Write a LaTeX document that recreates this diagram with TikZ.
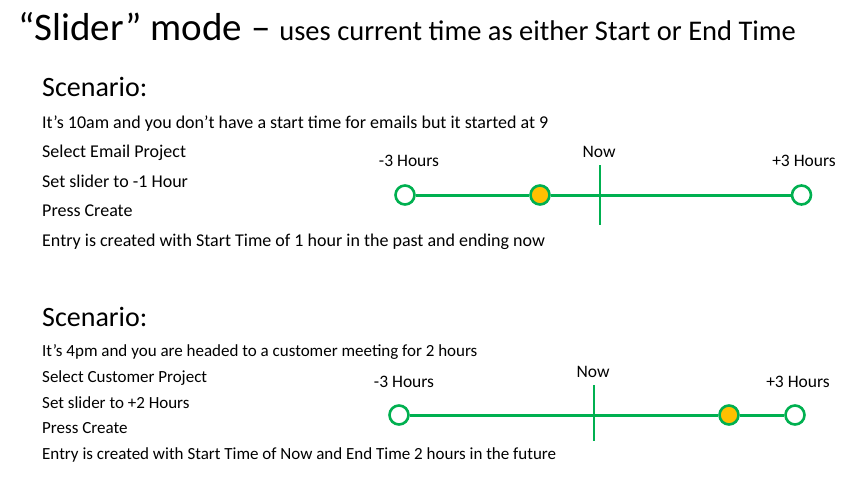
\documentclass[tikz,border=0pt]{standalone}
\usepackage{fontspec}
\setmainfont{Carlito}
\definecolor{slidergreen}{HTML}{00B050}
\definecolor{knobfill}{HTML}{FFC000}
\begin{document}
\begin{tikzpicture}[x=1pt,y=-1pt,
  txt/.style={anchor=base west,inner sep=0pt,font=\fontsize{18}{21}\selectfont},
  txtb/.style={anchor=base west,inner sep=0pt,font=\fontsize{17}{20}\selectfont},
  head/.style={anchor=base west,inner sep=0pt,font=\fontsize{28}{32}\selectfont},
  lbl/.style={anchor=base,inner sep=0pt,font=\fontsize{17.5}{20}\selectfont},
  knob/.style={circle,draw=slidergreen,line width=2.6pt,fill=white,minimum size=19pt,inner sep=0pt},
  knobset/.style={knob,fill=knobfill},
  track/.style={draw=slidergreen,line width=3pt},
  nowline/.style={draw=slidergreen,line width=1.3pt}]
\useasboundingbox (0,0) rectangle (861,482);

% title
\node[anchor=base west,inner sep=0pt] (title) at (18,40)
  {\fontsize{39}{44}\selectfont “Slider” mode – \fontsize{28.5}{32}\selectfont uses current time as either Start or End Time};

% first scenario
\node[head] (s1) at (42,96) {Scenario:};
\node[txt] (s1a) at (42,128) {It’s 10am and you don’t have a start time for emails but it started at 9};
\node[txt] (s1b) at (42,157) {Select Email Project};
\node[txt] (s1c) at (42,187) {Set slider to -1 Hour};
\node[txt] (s1d) at (42,216) {Press Create};
\node[txt] (s1e) at (42,246) {Entry is created with Start Time of 1 hour in the past and ending now};

\node[lbl] (a1min) at (409,166) {-3 Hours};
\node[lbl] (a1now) at (599,157) {Now};
\node[lbl] (a1max) at (804,166) {+3 Hours};
\coordinate (n1top) at (600,165);
\coordinate (n1bot) at (600,225);
\draw[nowline] (n1top) -- (n1bot);
\node[knob] (k1a) at (405,195) {};
\node[knobset] (k1b) at (540,195) {};
\node[knob] (k1c) at (801.5,195) {};
\draw[track] (k1a) -- (k1b);
\draw[track] (k1b) -- (k1c);

% second scenario
\node[head] (s2) at (42,326) {Scenario:};
\node[txtb] (s2a) at (42,356.5) {It’s 4pm and you are headed to a customer meeting for 2 hours};
\node[txtb] (s2b) at (42,382.5) {Select Customer Project};
\node[txtb] (s2c) at (42,408) {Set slider to +2 Hours};
\node[txtb] (s2d) at (42,433.5) {Press Create};
\node[txtb] (s2e) at (42,459) {Entry is created with Start Time of Now and End Time 2 hours in the future};

\node[lbl] (a2min) at (404,387) {-3 Hours};
\node[lbl] (a2now) at (593,377) {Now};
\node[lbl] (a2max) at (798,387) {+3 Hours};
\coordinate (n2top) at (594,385);
\coordinate (n2bot) at (594,441);
\draw[nowline] (n2top) -- (n2bot);
\node[knob] (k2a) at (399,415) {};
\node[knobset] (k2b) at (729,415) {};
\node[knob] (k2c) at (795,415) {};
\draw[track] (k2a) -- (k2b);
\draw[track] (k2b) -- (k2c);
\end{tikzpicture}
\end{document}
